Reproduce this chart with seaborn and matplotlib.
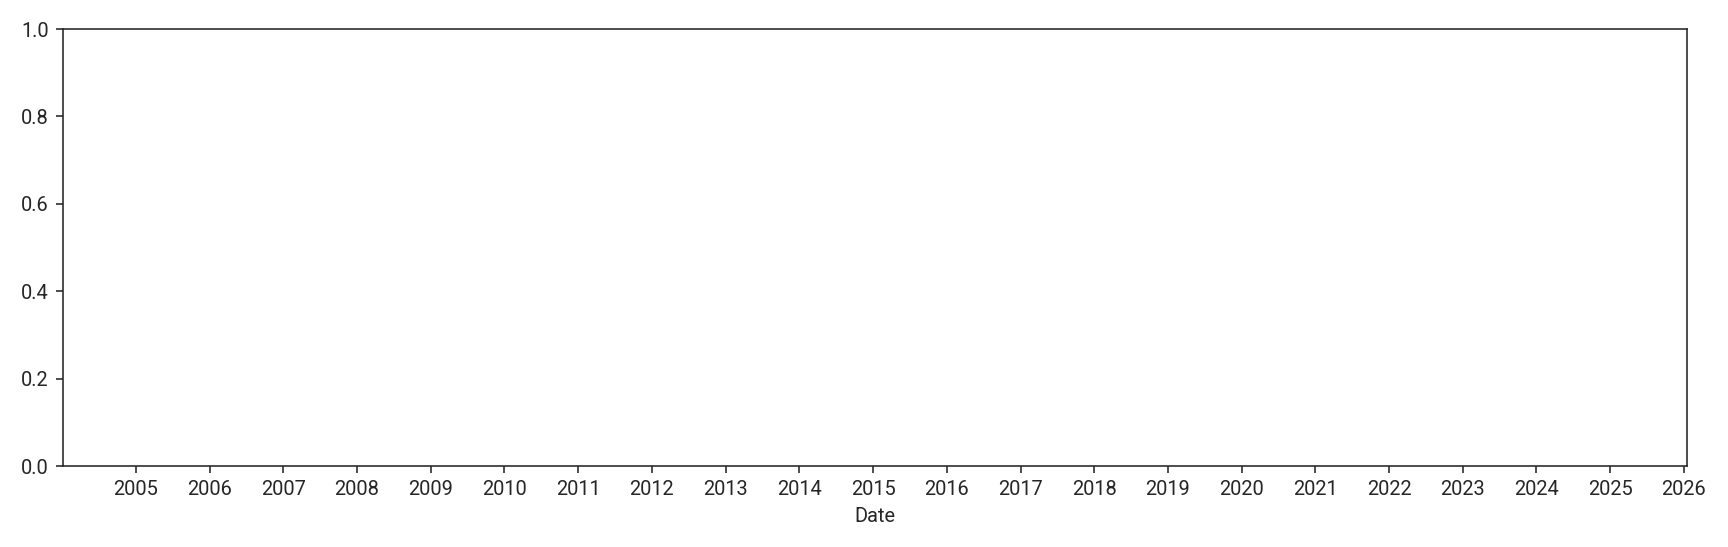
import matplotlib
matplotlib.use('Agg')
import matplotlib.pyplot as plt
import matplotlib.dates as mdates
import seaborn as sns
import pandas as pd

# the reference chart has no visible series: the data is empty
dates = []
values = []
x_start = '2004-01-04'
x_end = '2026-01-14'

sns.set_style('ticks')
plt.rcParams['font.family'] = ['Roboto', 'DejaVu Sans']

df = pd.DataFrame({'Date': pd.to_datetime(pd.Series(dates, dtype='object')),
                   'Value': pd.Series(values, dtype='float')})

fig, ax = plt.subplots(figsize=(12, 3.8), dpi=144)
sns.lineplot(data=df, x='Date', y='Value', ax=ax)
ax.set_xlim(pd.Timestamp(x_start), pd.Timestamp(x_end))
ax.set_ylim(0, 1)
ax.xaxis.set_major_locator(mdates.YearLocator(1))
ax.xaxis.set_major_formatter(mdates.DateFormatter('%Y'))
ax.set_xlabel('Date')
ax.set_ylabel('')

fig.subplots_adjust(left=0.0363, right=0.976, top=0.947, bottom=0.148)
fig.savefig('out.png', dpi=144)
